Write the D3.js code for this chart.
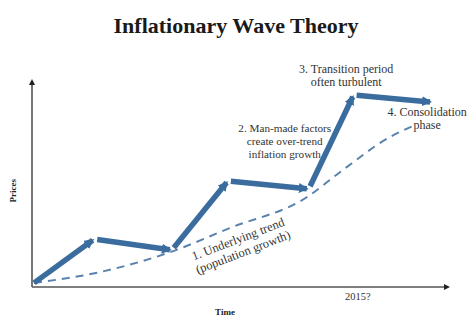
<!DOCTYPE html>
<html><head><meta charset="utf-8">
<script src="https://cdn.jsdelivr.net/npm/d3@7"></script>
<style>body{margin:0;background:#fff}svg{display:block}</style>
</head><body>
<script>
const title = "Inflationary Wave Theory";
const waveX = [0.5, 15, 33.7, 47.2, 66.7, 77.5, 96.4];
const waveY = [2, 23.4, 18, 51.7, 47.8, 93.7, 90.2];
const trendX = [0.5, 16.4, 33.3, 47.7, 66.3, 74.2, 86.3, 92.3];
const trendY = [2, 7.3, 17, 28.8, 43.9, 56, 73.2, 79];
const tickLabels = ["2015?"];
const tickX = [78.5];
const noteLines = [
  ["3. Transition period","often turbulent"],
  ["2. Man-made factors","create over-trend","inflation growth"],
  ["4. Consolidation","phase"]
];
const noteAnchorX = [75.7, 60.9, 95.2];
const noteAnchorY = [104.4, 75.6, 83.4];
const trendNoteLines = ["1. Underlying trend","(population growth)"];
const trendNoteAnchor = [50, 21.5];

const W=473,H=317;
const svg=d3.select("body").append("svg").attr("width",W).attr("height",H);
const x=d3.scaleLinear().domain([0,100]).range([32,447]);
const y=d3.scaleLinear().domain([0,100]).range([287,82]);
const serif="'Liberation Serif','DejaVu Serif',serif";
const axisCol="#555";
const blue="#3b6c9e";
const noteSizes=[12,11.2,12];

const defs=svg.append("defs");
defs.append("marker").attr("id","ah").attr("viewBox","0 0 10 10").attr("refX",8).attr("refY",5)
  .attr("markerWidth",10).attr("markerHeight",10).attr("markerUnits","userSpaceOnUse").attr("orient","auto")
  .append("path").attr("d","M0,0 L10,5 L0,10 Z").attr("fill",blue);
defs.append("marker").attr("id","axh").attr("viewBox","0 0 10 10").attr("refX",5).attr("refY",5)
  .attr("markerWidth",6).attr("markerHeight",6).attr("markerUnits","userSpaceOnUse").attr("orient","auto")
  .append("path").attr("d","M0,0 L10,5 L0,10 Z").attr("fill","#222");

// title
svg.append("text").attr("x",236).attr("y",33).attr("text-anchor","middle")
  .attr("font-family",serif).attr("font-weight","bold").attr("font-size",22).attr("fill","#1a1a1a").text(title);

// axes
svg.append("line").attr("x1",x(0)).attr("y1",y(0)).attr("x2",x(0)).attr("y2",y(100))
  .attr("stroke",axisCol).attr("stroke-width",1.6).attr("marker-end","url(#axh)");
svg.append("line").attr("x1",x(0)).attr("y1",y(0)).attr("x2",x(100)).attr("y2",y(0))
  .attr("stroke",axisCol).attr("stroke-width",1.6).attr("marker-end","url(#axh)");

svg.append("text").attr("transform",`translate(16,${y(47)}) rotate(-90)`).attr("text-anchor","middle")
  .attr("font-family",serif).attr("font-weight","bold").attr("font-size",9).attr("fill","#222").text("Prices");
svg.append("text").attr("x",x(46.5)).attr("y",315).attr("text-anchor","middle")
  .attr("font-family",serif).attr("font-weight","bold").attr("font-size",9).attr("fill","#222").text("Time");
svg.selectAll(".tick").data(tickLabels).join("text").attr("x",(d,i)=>x(tickX[i])).attr("y",300)
  .attr("text-anchor","middle").attr("font-family",serif).attr("font-size",10.5).attr("fill","#333").text(d=>d);

// trend
const trendPts=trendX.map((v,i)=>[x(v),y(trendY[i])]);
svg.append("path").attr("d",d3.line().curve(d3.curveMonotoneX)(trendPts))
  .attr("fill","none").attr("stroke","#5a82ad").attr("stroke-width",2).attr("stroke-dasharray","8,6");

// wave arrows
const pts=waveX.map((v,i)=>[x(v),y(waveY[i])]);
for(let i=0;i<pts.length-1;i++){
  const [x1,y1]=pts[i],[x2,y2]=pts[i+1];
  const dx=x2-x1,dy=y2-y1,L=Math.hypot(dx,dy),ux=dx/L,uy=dy/L;
  const s=i===0?0:3, e=2;
  svg.append("line").attr("x1",x1+ux*s).attr("y1",y1+uy*s).attr("x2",x2-ux*e).attr("y2",y2-uy*e)
    .attr("stroke",blue).attr("stroke-width",5.5).attr("marker-end","url(#ah)");
}

// notes
noteLines.forEach((lines,k)=>{
  const t=svg.append("text").attr("text-anchor","middle").attr("font-family",serif)
    .attr("font-size",noteSizes[k]).attr("fill","#333");
  lines.forEach((l,i)=>t.append("tspan").attr("x",x(noteAnchorX[k])).attr("y",y(noteAnchorY[k])+i*13).text(l));
});
const tn=svg.append("text").attr("transform",`translate(${x(trendNoteAnchor[0])},${y(trendNoteAnchor[1])}) rotate(-21)`)
  .attr("text-anchor","middle").attr("font-family",serif).attr("font-size",12.5).attr("fill","#333");
trendNoteLines.forEach((l,i)=>tn.append("tspan").attr("x",0).attr("y",i*14).text(l));
</script>
</body></html>
